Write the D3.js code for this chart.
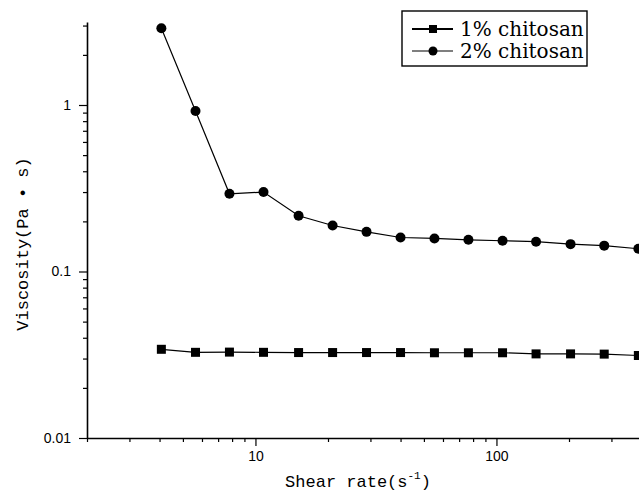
<!DOCTYPE html>
<html>
<head>
<meta charset="utf-8">
<script src="https://cdn.jsdelivr.net/npm/d3@7"></script>
<style>
  body { margin: 0; background: #fff; }
  svg { display: block; }
</style>
</head>
<body>
<div id="chart"></div>
<script>
// shear rate (s^-1)
const shearRate = [4.07, 5.64, 7.8, 10.8, 15.1, 20.9, 28.9, 40, 55.3, 76.5, 106, 146, 203, 280, 388];
const visc1 = [0.0341, 0.0327, 0.0328, 0.0327, 0.0326, 0.0326, 0.0326, 0.0326, 0.0325, 0.0325, 0.0325, 0.0320, 0.0320, 0.0319, 0.0313];
const visc2 = [2.89, 0.92, 0.293, 0.30, 0.216, 0.189, 0.173, 0.160, 0.158, 0.155, 0.153, 0.151, 0.146, 0.143, 0.137];
const seriesNames = ['1% chitosan', '2% chitosan'];
const xMajor = [10, 100];
const yMajor = [0.01, 0.1, 1];

const width = 639;
const height = 499;

const svg = d3.select('#chart').append('svg')
  .attr('width', width)
  .attr('height', height);

const x = d3.scaleLog().domain([2, 1000]).range([87, 87 + 241 * Math.log10(500)]);
const y = d3.scaleLog().domain([0.01, 3.15]).range([438, 438 - 166.5 * Math.log10(315)]);

const isMajor = v => Math.abs(Math.log10(v) - Math.round(Math.log10(v))) < 1e-6;
const fmt = v => String(+v.toPrecision(3));

// minor ticks
svg.append('g')
  .attr('transform', 'translate(0,438)')
  .call(d3.axisBottom(x).tickValues(x.ticks().filter(v => !isMajor(v))).tickSize(4).tickFormat(''))
  .call(g => g.select('.domain').remove());
svg.append('g')
  .attr('transform', 'translate(87,0)')
  .call(d3.axisLeft(y).tickValues(y.ticks().filter(v => !isMajor(v))).tickSize(4).tickFormat(''))
  .call(g => g.select('.domain').remove());

// major ticks + axes
svg.append('g')
  .attr('transform', 'translate(0,438)')
  .call(d3.axisBottom(x).tickValues(xMajor).tickSize(8).tickPadding(5).tickFormat(fmt).tickSizeOuter(0));
svg.append('g')
  .attr('transform', 'translate(87,0)')
  .call(d3.axisLeft(y).tickValues(yMajor).tickSize(8).tickPadding(8).tickFormat(fmt).tickSizeOuter(0));

svg.selectAll('.tick line').attr('stroke', '#000').attr('stroke-width', 1.2);
svg.selectAll('.domain').attr('stroke', '#000').attr('stroke-width', 1.6);
svg.selectAll('.tick text')
  .attr('fill', '#000')
  .style('font-family', '"Liberation Sans", Arial, sans-serif')
  .style('font-size', '14px');

// axis titles
svg.append('text')
  .attr('x', 358).attr('y', 487)
  .attr('text-anchor', 'middle')
  .style('font-family', '"Liberation Mono", monospace')
  .style('font-size', '17px')
  .call(t => {
    t.append('tspan').text('Shear rate(s');
    t.append('tspan').attr('dy', -8).style('font-size', '11px').text('-1');
    t.append('tspan').attr('dy', 8).text(')');
  });

svg.append('text')
  .attr('transform', 'translate(28,244) rotate(-90)')
  .attr('text-anchor', 'middle')
  .style('font-family', '"Liberation Mono", monospace')
  .style('font-size', '17px')
  .text('Viscosity(Pa • s)');

// data
const rows1 = shearRate.map((s, i) => [s, visc1[i]]);
const rows2 = shearRate.map((s, i) => [s, visc2[i]]);
const line = d3.line().x(d => x(d[0])).y(d => y(d[1]));

svg.append('path').datum(rows1)
  .attr('d', line).attr('fill', 'none').attr('stroke', '#000').attr('stroke-width', 1.2);
svg.append('path').datum(rows2)
  .attr('d', line).attr('fill', 'none').attr('stroke', '#000').attr('stroke-width', 1.2);

svg.append('g').selectAll('rect')
  .data(rows1)
  .join('rect')
    .attr('x', d => x(d[0]) - 4.5)
    .attr('y', d => y(d[1]) - 4.5)
    .attr('width', 9).attr('height', 9)
    .attr('fill', '#000');

svg.append('g').selectAll('circle')
  .data(rows2)
  .join('circle')
    .attr('cx', d => x(d[0]))
    .attr('cy', d => y(d[1]))
    .attr('r', 5)
    .attr('fill', '#000');

// legend
const legend = svg.append('g').attr('transform', 'translate(402,11)');
legend.append('rect')
  .attr('width', 185).attr('height', 55)
  .attr('fill', '#fff').attr('stroke', '#000').attr('stroke-width', 1.4);

const item = legend.selectAll('g.item')
  .data(seriesNames)
  .join('g')
    .attr('class', 'item')
    .attr('transform', (d, i) => `translate(0,${18 + i * 22})`);
item.append('line')
  .attr('x1', 10).attr('x2', 51)
  .attr('stroke', '#000').attr('stroke-width', (d, i) => i === 0 ? 1.8 : 1.2);
item.filter((d, i) => i === 0).append('rect')
  .attr('x', 27).attr('y', -4).attr('width', 8).attr('height', 8).attr('fill', '#000');
item.filter((d, i) => i === 1).append('circle')
  .attr('cx', 31).attr('r', 4.5).attr('fill', '#000');
item.append('text')
  .attr('x', 58).attr('dy', '0.35em')
  .style('font-family', '"DejaVu Serif", serif')
  .style('font-size', '20px')
  .text(d => d);
</script>
</body>
</html>
